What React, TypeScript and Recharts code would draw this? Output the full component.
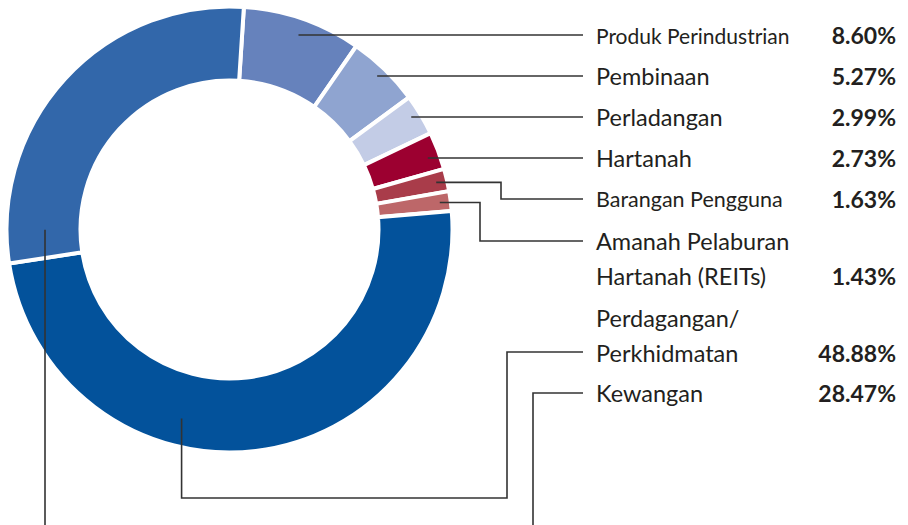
import React from 'react';
import { PieChart, Pie, Cell } from 'recharts';

// sector breakdown, clockwise from the top
const sectors = [
  'Produk Perindustrian',
  'Pembinaan',
  'Perladangan',
  'Hartanah',
  'Barangan Pengguna',
  'Amanah Pelaburan Hartanah (REITs)',
  'Perdagangan/Perkhidmatan',
  'Kewangan',
];
const shares = [8.6, 5.27, 2.99, 2.73, 1.63, 1.43, 48.88, 28.47];
const labelLines = [
  ['Produk Perindustrian'],
  ['Pembinaan'],
  ['Perladangan'],
  ['Hartanah'],
  ['Barangan Pengguna'],
  ['Amanah Pelaburan', 'Hartanah (REITs)'],
  ['Perdagangan/', 'Perkhidmatan'],
  ['Kewangan'],
];
const colors = ['#6682BC', '#8FA4D0', '#C3CCE6', '#9C0030', '#A93C4A', '#BD6769', '#03529B', '#3267AA'];

const data = sectors.map((name, i) => ({ name, value: shares[i] }));

// label/leader layout (not data)
const TEXT_X = 596;
const LINE_END = 583;
const PCT_X = 896;
const LINE_H = 35;
const layout = [
  { textY: 35, leaderY: 35, size: 21, r: 210, offset: 0 },
  { textY: 76, leaderY: 76, size: 23.5, r: 212, offset: 0 },
  { textY: 117, leaderY: 117, size: 23.5, r: 212, offset: 0 },
  { textY: 158, leaderY: 158, size: 23.5, r: 212, offset: 0 },
  { textY: 199, leaderY: 199, size: 21.5, r: 212, offset: 0, elbowX: 501 },
  { textY: 241, leaderY: 241, size: 23.5, r: 212, offset: 0, elbowX: 480 },
  { textY: 318, leaderY: 352, size: 23.5, r: 195, offset: -21, downY: 498, elbowX: 507 },
  { textY: 393, leaderY: 393, size: 23.5, r: 184.5, offset: 42.5, downY: 545, elbowX: 533 },
];

const RAD = Math.PI / 180;

const renderLabel = (props: any) => {
  const { cx, cy, midAngle, index } = props;
  const l = layout[index];
  const a = (midAngle + l.offset) * RAD;
  const ax = cx + l.r * Math.cos(a);
  const ay = cy - l.r * Math.sin(a);
  let pts: number[][];
  if (l.downY) {
    pts = [[ax, ay], [ax, l.downY], [l.elbowX, l.downY], [l.elbowX, l.leaderY], [LINE_END, l.leaderY]];
  } else if (l.elbowX) {
    pts = [[ax, ay], [l.elbowX, ay], [l.elbowX, l.leaderY], [LINE_END, l.leaderY]];
  } else {
    pts = [[ax, l.leaderY], [LINE_END, l.leaderY]];
  }
  const lines = labelLines[index];
  const lastY = l.textY + (lines.length - 1) * LINE_H;
  return (
    <g key={`lbl-${index}`}>
      <polyline
        points={pts.map((p) => p.join(',')).join(' ')}
        fill="none"
        stroke="#333"
        strokeWidth={1.6}
      />
      {lines.map((t, j) => (
        <text
          key={j}
          x={TEXT_X}
          y={l.textY + j * LINE_H}
          fontSize={l.size}
          fill="#231f20"
          dominantBaseline="central"
        >
          {t}
        </text>
      ))}
      <text
        x={PCT_X}
        y={lastY}
        fontSize={23}
        fontWeight="bold"
        fill="#231f20"
        textAnchor="end"
        dominantBaseline="central"
      >
        {shares[index].toFixed(2)}%
      </text>
    </g>
  );
};

export default function App() {
  return (
    <div style={{ position: 'fixed', left: 0, top: 0, width: 908, height: 525, overflow: 'hidden', background: '#fff' }}>
      <PieChart
        width={908}
        height={560}
        margin={{ top: 0, right: 0, bottom: 0, left: 0 }}
        style={{ fontFamily: 'Lato, sans-serif' }}
      >
        <Pie
          data={data}
          dataKey="value"
          nameKey="name"
          cx={229.5}
          cy={229.5}
          innerRadius={149}
          outerRadius={223}
          startAngle={86.3}
          endAngle={-273.7}
          stroke="#fff"
          strokeWidth={4}
          label={renderLabel}
          labelLine={false}
          isAnimationActive={false}
        >
          {data.map((d, i) => (
            <Cell key={d.name} fill={colors[i]} />
          ))}
        </Pie>
      </PieChart>
    </div>
  );
}
